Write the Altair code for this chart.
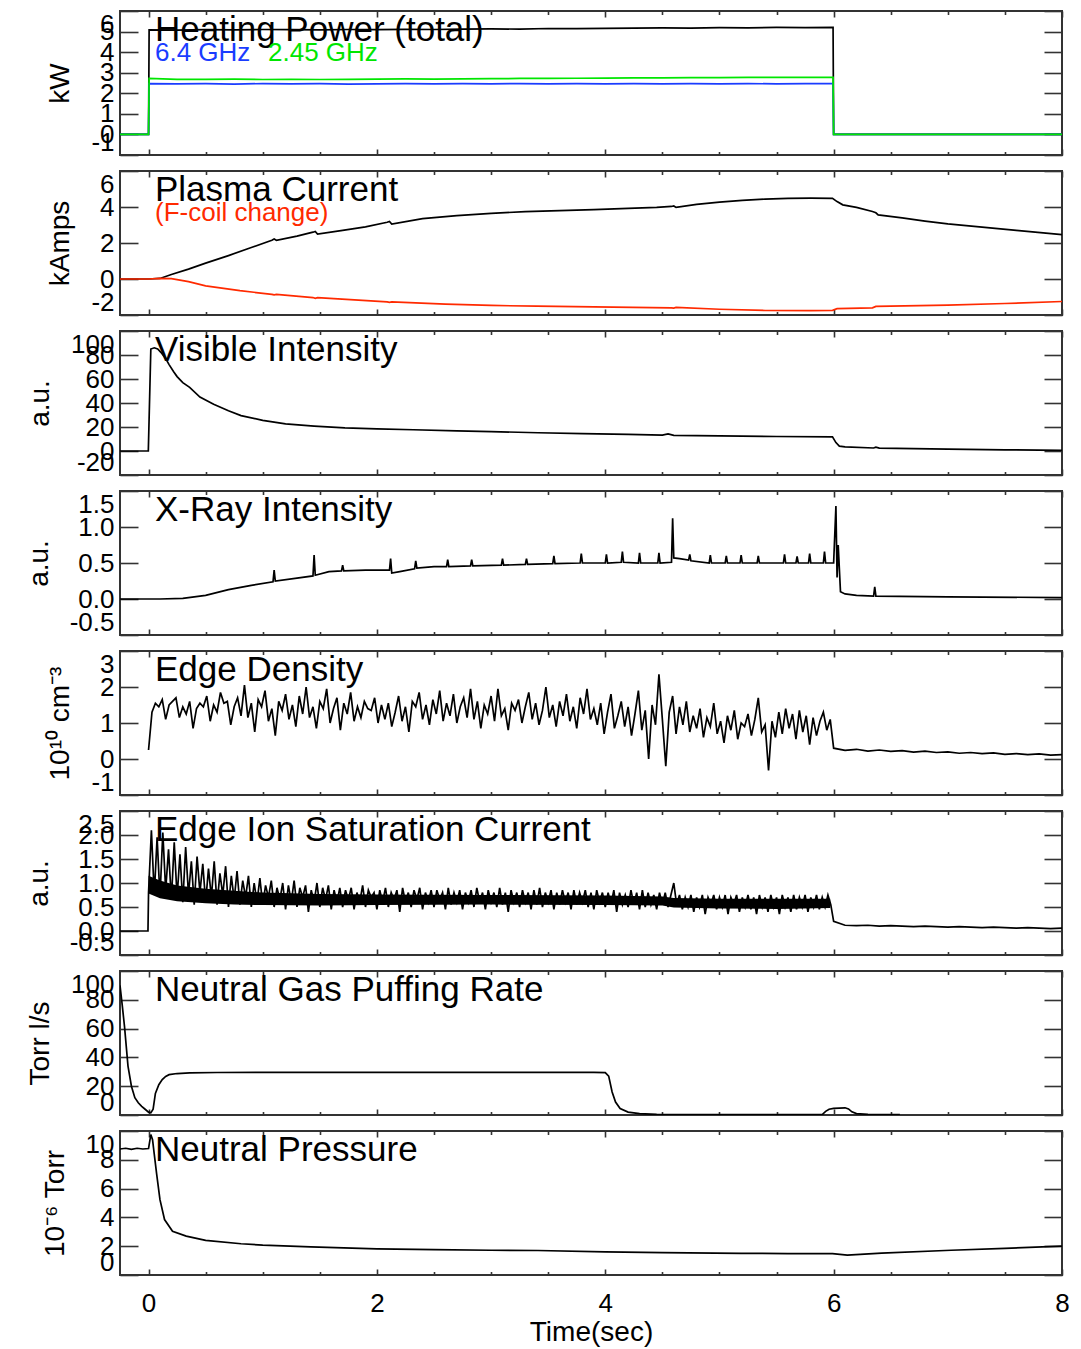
import altair as alt
import pandas as pd

# ---------------- data ----------------
# Panel 1: heating power (kW)
HP_T = [-0.25, 0.0, 0.005, 0.25, 0.5, 0.75, 1.0, 1.25, 1.5, 1.75, 2.0, 2.25, 2.5, 2.75, 3.0,
        3.25, 3.5, 3.75, 4.0, 4.25, 4.5, 4.75, 5.0, 5.25, 5.5, 5.75, 5.995, 6.0, 8.0]
HP_TOTAL = [0, 0, 5.08, 5.07, 5.09, 5.08, 5.10, 5.09, 5.08, 5.10, 5.09, 5.11, 5.10, 5.12, 5.13,
            5.12, 5.15, 5.14, 5.16, 5.17, 5.18, 5.17, 5.19, 5.18, 5.20, 5.19, 5.20, 0, 0]
HP_64 = [0, 0, 2.47, 2.46, 2.47, 2.45, 2.47, 2.46, 2.47, 2.45, 2.46, 2.47, 2.46, 2.47, 2.46,
         2.47, 2.46, 2.47, 2.46, 2.47, 2.46, 2.47, 2.46, 2.47, 2.46, 2.47, 2.47, 0, 0]
HP_245 = [0, 0, 2.72, 2.68, 2.68, 2.69, 2.67, 2.68, 2.67, 2.68, 2.69, 2.70, 2.69, 2.70, 2.71,
          2.72, 2.72, 2.73, 2.74, 2.75, 2.75, 2.76, 2.76, 2.77, 2.77, 2.77, 2.77, 0, 0]

# Panel 2: plasma current and F-coil change (kA)
IP_T = [-0.25, 0.0, 0.1, 0.2, 0.35, 0.5, 0.7, 0.9, 1.08, 1.10, 1.12, 1.3, 1.44, 1.46, 1.48,
        1.7, 1.9, 2.09, 2.11, 2.13, 2.4, 2.7, 3.0, 3.3, 3.6, 3.9, 4.2, 4.45, 4.58, 4.60, 4.62,
        4.8, 5.0, 5.2, 5.4, 5.6, 5.8, 5.99, 6.03, 6.08, 6.2, 6.34, 6.37, 6.39, 6.6, 6.8, 7.0,
        7.3, 7.6, 8.0]
IP = [0, 0, 0.03, 0.25, 0.55, 0.88, 1.30, 1.75, 2.15, 2.22, 2.15, 2.38, 2.60, 2.64, 2.50,
      2.70, 2.90, 3.15, 3.20, 3.05, 3.35, 3.52, 3.65, 3.74, 3.80, 3.85, 3.92, 3.98, 4.03, 4.06, 3.98,
      4.15, 4.27, 4.37, 4.44, 4.48, 4.49, 4.48, 4.30, 4.12, 3.98, 3.75, 3.68, 3.56, 3.40, 3.22, 3.06,
      2.88, 2.70, 2.47]
FC_T = [-0.25, 0.0, 0.1, 0.2, 0.35, 0.5, 0.8, 1.08, 1.10, 1.12, 1.44, 1.46, 1.48, 2.09, 2.11,
        2.13, 2.6, 3.0, 3.4, 3.9, 4.58, 4.60, 4.62, 5.0, 5.4, 5.8, 5.99, 6.03, 6.34, 6.37, 7.0,
        7.5, 8.0]
FC = [0, 0, 0.03, 0.02, -0.15, -0.38, -0.65, -0.85, -0.88, -0.86, -1.03, -1.07, -1.04, -1.27, -1.30,
      -1.27, -1.40, -1.47, -1.51, -1.55, -1.60, -1.62, -1.58, -1.68, -1.75, -1.76, -1.74, -1.65, -1.60, -1.52, -1.45,
      -1.36, -1.25]

# Panel 3: visible intensity (a.u.)
VIS_T = [-0.25, -0.002, 0.02, 0.05, 0.08, 0.11, 0.15, 0.18, 0.22, 0.25, 0.3, 0.36, 0.45, 0.57,
         0.7, 0.81, 1.0, 1.2, 1.45, 1.72, 2.0, 2.32, 2.7, 3.0, 3.41, 3.8, 4.2, 4.5, 4.55, 4.6,
         5.0, 5.5, 5.99, 6.02, 6.05, 6.1, 6.35, 6.37, 6.4, 7.0, 7.5, 8.0]
VIS = [0, 0, 85, 86, 85, 82, 77, 72, 66, 62, 57, 53, 45, 39,
       33.5, 29.5, 25.5, 22.6, 20.8, 19.3, 18.5, 17.7, 16.8, 16.2, 15.2, 14.5, 13.8, 13.2, 14.2, 13.0,
       12.6, 12.1, 11.8, 7.0, 4.0, 3.4, 2.5, 3.2, 2.4, 1.6, 1.0, 0.6]

# Panel 4: X-ray intensity (a.u.)
XR_T = [-0.25, 0.1, 0.3, 0.5, 0.7, 0.9,
        1.09, 1.10, 1.11, 1.3,
        1.44, 1.45, 1.46, 1.58,
        1.69, 1.70, 1.71, 1.9,
        2.11, 2.12, 2.13, 2.2,
        2.33, 2.34, 2.35, 2.5,
        2.61, 2.62, 2.63,
        2.82, 2.83, 2.84,
        3.09, 3.10, 3.11,
        3.30, 3.31, 3.32,
        3.54, 3.55, 3.56,
        3.78, 3.79, 3.80,
        4.00, 4.01, 4.02,
        4.14, 4.15, 4.16,
        4.29, 4.30, 4.31,
        4.46, 4.47, 4.48,
        4.58, 4.59, 4.60, 4.65,
        4.73, 4.74, 4.75,
        4.91, 4.92, 4.93,
        5.05, 5.06, 5.07,
        5.18, 5.19, 5.20,
        5.33, 5.34, 5.35,
        5.56, 5.57, 5.58,
        5.67, 5.68, 5.69,
        5.78, 5.79, 5.80,
        5.91, 5.92, 5.93,
        6.00, 6.02, 6.03, 6.04, 6.06, 6.10, 6.20,
        6.35, 6.36, 6.37, 7.0, 8.0]
XR = [0.0, 0.0, 0.01, 0.05, 0.13, 0.19,
      0.24, 0.40, 0.25, 0.29,
      0.32, 0.61, 0.33, 0.38,
      0.39, 0.47, 0.39, 0.40,
      0.40, 0.56, 0.36, 0.38,
      0.42, 0.53, 0.43, 0.45,
      0.45, 0.545, 0.45,
      0.46, 0.545, 0.46,
      0.47, 0.56, 0.47,
      0.48, 0.56, 0.48,
      0.49, 0.60, 0.49,
      0.50, 0.63, 0.50,
      0.50, 0.62, 0.50,
      0.51, 0.66, 0.51,
      0.50, 0.64, 0.50,
      0.50, 0.64, 0.50,
      0.51, 1.12, 0.57, 0.56,
      0.54, 0.62, 0.53,
      0.50, 0.61, 0.50,
      0.50, 0.60, 0.50,
      0.50, 0.61, 0.50,
      0.50, 0.60, 0.50,
      0.50, 0.62, 0.50,
      0.50, 0.59, 0.50,
      0.50, 0.63, 0.50,
      0.50, 0.66, 0.50,
      0.50, 1.29, 0.30, 0.75, 0.10, 0.07, 0.05,
      0.04, 0.17, 0.04, 0.03, 0.02]

# Panel 5: edge density (1e10 cm^-3), sampled every 0.03 s from t = 0, then every 0.1 s from t = 6
ED_DT = 0.03
ED = [
    0.25, 1.30, 1.55, 1.45, 1.65, 1.10, 1.50, 1.60, 1.70, 1.15,
    1.45, 1.25, 1.60, 0.85, 1.40, 1.55, 1.45, 1.75, 1.05, 1.50,
    1.30, 1.85, 1.55, 1.60, 0.95, 1.45, 1.70, 1.20, 2.05, 1.15,
    1.55, 0.75, 1.65, 1.45, 1.90, 1.05, 1.40, 0.65, 1.60, 1.35,
    1.80, 1.10, 1.50, 0.90, 1.75, 1.25, 2.00, 1.15, 1.45, 0.85,
    1.60, 1.40, 1.95, 1.00, 1.40, 1.70, 0.80, 1.55, 1.25, 1.85,
    1.05, 1.45, 1.15, 1.60, 1.40, 1.35, 1.70, 1.00, 1.50, 1.10,
    1.55, 0.90, 1.30, 1.75, 1.05, 1.45, 0.75, 1.60, 1.45, 1.85,
    1.10, 1.50, 0.95, 1.65, 1.25, 1.90, 1.05, 1.55, 1.20, 1.80,
    1.00, 1.45, 1.70, 1.15, 1.95, 1.10, 1.60, 0.85, 1.50, 1.25,
    1.75, 1.05, 1.95, 1.20, 1.40, 0.80, 1.55, 1.35, 1.65, 1.00,
    1.45, 1.85, 1.10, 1.55, 0.95, 1.35, 2.00, 1.15, 1.50, 0.90,
    1.60, 1.20, 1.80, 1.05, 1.45, 0.85, 1.70, 1.25, 1.95, 1.10,
    1.40, 0.95, 1.55, 0.70, 1.30, 1.80, 0.85, 1.20, 1.60, 0.90,
    1.45, 0.65, 1.25, 1.90, 0.80, 1.35, 0.00, 1.50, 0.95, 2.35,
    1.10, -0.20, 1.30, 1.75, 0.70, 1.45, 0.95, 1.60, 0.75, 1.20,
    0.85, 1.40, 0.60, 1.15, 0.90, 1.55, 0.70, 1.05, 0.45, 1.20,
    0.80, 1.35, 0.55, 1.00, 0.90, 1.25, 0.65, 1.10, 1.70, 0.75,
    0.95, -0.32, 1.05, 0.60, 1.30, 0.70, 1.40, 0.85, 1.25, 0.55,
    1.35, 0.75, 1.20, 0.40, 1.15, 0.65, 1.05, 1.30, 0.80, 1.10,
]
ED_POST = [0.30, 0.24, 0.27, 0.22, 0.25, 0.21, 0.23, 0.19, 0.22, 0.18, 0.20,
           0.16, 0.18, 0.15, 0.17, 0.13, 0.15, 0.12, 0.14, 0.11, 0.12]

# Panel 6: edge ion saturation current (a.u.), every 0.025 s from t = 0, then every 0.1 s from t = 6
ION_PRE_T = [-0.25, -0.005]
ION_PRE = [0.0, 0.0]
ION_DT = 0.025
ION = [
    0.80, 2.10, 0.75, 1.95, 0.70, 2.05, 0.85, 1.70, 0.65, 1.85,
    0.70, 1.60, 0.60, 1.75, 0.75, 1.45, 0.55, 1.55, 0.80, 1.40,
    0.60, 1.30, 0.70, 1.45, 0.55, 1.20, 0.75, 1.35, 0.50, 1.15,
    0.65, 1.25, 0.55, 1.05, 0.70, 1.15, 0.50, 1.00, 0.60, 1.10,
    0.55, 0.95, 0.70, 1.05, 0.50, 0.90, 0.65, 1.00, 0.45, 0.95,
    0.60, 1.05, 0.50, 0.90, 0.70, 0.95, 0.40, 0.85, 0.60, 1.00,
    0.50, 0.90, 0.65, 0.95, 0.45, 0.85, 0.60, 0.90, 0.50, 0.85,
    0.65, 0.90, 0.45, 0.80, 0.60, 0.95, 0.50, 0.85, 0.70, 0.80,
    0.45, 0.85, 0.60, 0.90, 0.50, 0.80, 0.65, 0.85, 0.40, 0.90,
    0.60, 0.80, 0.50, 0.85, 0.65, 0.90, 0.45, 0.80, 0.60, 0.85,
    0.50, 0.85, 0.65, 0.80, 0.45, 0.90, 0.55, 0.80, 0.60, 0.85,
    0.45, 0.80, 0.60, 0.85, 0.50, 0.90, 0.60, 0.80, 0.45, 0.85,
    0.60, 0.80, 0.50, 0.90, 0.55, 0.80, 0.40, 0.85, 0.60, 0.80,
    0.50, 0.85, 0.60, 0.80, 0.45, 0.85, 0.55, 0.90, 0.50, 0.80,
    0.60, 0.85, 0.45, 0.80, 0.55, 0.85, 0.60, 0.80, 0.45, 0.85,
    0.55, 0.80, 0.60, 0.85, 0.50, 0.80, 0.45, 0.85, 0.60, 0.80,
    0.50, 0.80, 0.55, 0.85, 0.40, 0.80, 0.55, 0.75, 0.50, 0.85,
    0.55, 0.80, 0.45, 0.85, 0.50, 0.80, 0.55, 0.75, 0.45, 0.80,
    0.55, 0.80, 0.50, 0.75, 1.00, 0.55, 0.75, 0.45, 0.70, 0.50,
    0.75, 0.40, 0.70, 0.50, 0.75, 0.35, 0.70, 0.55, 0.75, 0.45,
    0.70, 0.50, 0.75, 0.35, 0.70, 0.55, 0.75, 0.40, 0.70, 0.50,
    0.75, 0.45, 0.70, 0.35, 0.75, 0.50, 0.70, 0.40, 0.75, 0.50,
    0.70, 0.35, 0.75, 0.50, 0.70, 0.40, 0.75, 0.45, 0.70, 0.50,
    0.75, 0.40, 0.70, 0.50, 0.75, 0.45, 0.70, 0.50, 0.75, 0.55,
]
ION_POST = [0.20, 0.12, 0.11, 0.12, 0.10, 0.11, 0.10, 0.09, 0.10, 0.09, 0.08,
            0.09, 0.08, 0.07, 0.08, 0.07, 0.06, 0.07, 0.06, 0.05, 0.06]
# dense core of the ion-current trace (envelope)
ION_BAND_T = [0.0, 0.1, 0.25, 0.5, 0.75, 1.0, 1.5, 2.0, 3.0, 4.0, 4.5, 4.6, 5.0, 5.5, 5.97]
ION_BAND_LO = [0.78, 0.68, 0.62, 0.58, 0.55, 0.54, 0.53, 0.54, 0.55, 0.54, 0.53, 0.49, 0.47, 0.46, 0.48]
ION_BAND_HI = [1.15, 1.05, 0.95, 0.88, 0.84, 0.80, 0.77, 0.76, 0.75, 0.74, 0.72, 0.69, 0.67, 0.67, 0.67]
POST_T0, POST_DT = 6.0, 0.1

# Panel 7: neutral gas puffing rate (Torr l/s)
GP_T = [-0.25, -0.23, -0.21, -0.18, -0.15, -0.12, -0.09, -0.06, -0.03, 0.0,
        0.02, 0.04, 0.06, 0.09, 0.12, 0.15, 0.18, 0.25, 0.36, 0.6,
        1.0, 2.0, 3.0, 3.9, 4.0, 4.03, 4.06, 4.09, 4.13, 4.2,
        4.3, 4.45, 5.0, 5.5, 5.9, 5.93, 5.96, 6.0, 6.1, 6.13,
        6.16, 6.2, 6.3, 6.45, 6.58]
GP = [90, 76, 61, 34, 20, 12, 8.5, 6, 4, 2,
      1.5, 4, 15, 21, 24.6, 26.8, 28, 28.8, 29.3, 29.5,
      29.6, 29.6, 29.6, 29.6, 29.4, 27, 16, 9, 4.5, 2,
      0.9, 0.4, 0.3, 0.3, 0.3, 2.5, 4, 4.6, 5.0, 4.2,
      2.2, 1.0, 0.4, 0.2, 0.2]

# Panel 8: neutral pressure (1e-6 Torr)
NP_T = [-0.25, -0.2, -0.15, -0.1, -0.05, 0.0, 0.02, 0.035, 0.05, 0.07, 0.1, 0.14, 0.21, 0.33,
        0.5, 0.81, 1.0, 1.42, 2.0, 2.5, 3.0, 3.41, 4.0, 4.5, 5.19, 5.6, 5.99, 6.12, 6.42, 7.03,
        7.5, 8.0]
NP = [8.75, 8.80, 8.72, 8.80, 8.75, 8.78, 9.75, 9.40, 8.40, 7.08, 5.23, 3.85, 3.04, 2.70,
      2.40, 2.17, 2.08, 1.96, 1.82, 1.76, 1.72, 1.70, 1.61, 1.56, 1.50, 1.49, 1.48, 1.38, 1.52, 1.72,
      1.85, 2.00]

TITLES = ["Heating Power (total)", "Plasma Current", "Visible Intensity", "X-Ray Intensity",
          "Edge Density", "Edge Ion Saturation Current", "Neutral Gas Puffing Rate",
          "Neutral Pressure"]
Y_TITLES = ["kW", "kAmps", "a.u.", "a.u.", "10¹⁰ cm⁻³", "a.u.", "Torr l/s", "10⁻⁶ Torr"]
Y_DOMAINS = [[-1, 6], [-2, 6], [-20, 100], [-0.5, 1.5], [-1, 3], [-0.5, 2.5], [0, 100], [0, 10]]
Y_TICKS = [[-1, 0, 1, 2, 3, 4, 5, 6], [-2, 0, 2, 4, 6], [-20, 0, 20, 40, 60, 80, 100],
           [-0.5, 0.0, 0.5, 1.0, 1.5], [-1, 0, 1, 2, 3], [-0.5, 0.0, 0.5, 1.0, 1.5, 2.0, 2.5],
           [0, 20, 40, 60, 80, 100], [0, 2, 4, 6, 8, 10]]
Y_FORMATS = ["d", "d", "d", ".1f", "d", ".1f", "d", "d"]

X_DOMAIN = [-0.25, 8.0]
X_MAJOR = [0, 2, 4, 6, 8]
X_MINOR = [0.5, 1.0, 1.5, 2.5, 3.0, 3.5, 4.5, 5.0, 5.5, 6.5, 7.0, 7.5]

# ---------------- styling ----------------
FONT = "Liberation Sans"
W, H = 942, 144
BLACK, BLUE, GREEN, RED = "#000000", "#1a3cff", "#00e600", "#ff2a00"


def grid(n, dt, t0=0.0):
    return [round(t0 + i * dt, 4) for i in range(n)]


def frame(t, **cols):
    d = {"t": t}
    d.update(cols)
    return pd.DataFrame(d)


def xenc(axis):
    return alt.X("t:Q", scale=alt.Scale(domain=X_DOMAIN, nice=False, zero=False), axis=axis)


def yenc(field, dom, axis):
    return alt.Y(f"{field}:Q", scale=alt.Scale(domain=dom, nice=False, zero=False), axis=axis)


def lexpr(fmt):
    return (f"datum.value < 0 ? '-' + format(-datum.value, '{fmt}') "
            f": format(datum.value, '{fmt}')")


def panel(i, series, texts, last=False, bands=()):
    dom, ticks = Y_DOMAINS[i], Y_TICKS[i]
    df0, f0, _ = series[0]
    xb_major = dict(orient="bottom", values=X_MAJOR, tickSize=6, offset=-6, labels=last,
                    labelFlush=False, labelPadding=15, format="d", titlePadding=2)
    xb_major["title"] = "Time(sec)" if last else None
    ax_xb_major = alt.Axis(**xb_major)
    ax_xb_minor = alt.Axis(orient="bottom", values=X_MINOR, tickSize=3.5, offset=-3.5,
                           labels=False, title=None)
    ax_xt_major = alt.Axis(orient="top", values=X_MAJOR, tickSize=6, offset=-6,
                           labels=False, title=None)
    ax_xt_minor = alt.Axis(orient="top", values=X_MINOR, tickSize=3.5, offset=-3.5,
                           labels=False, title=None)
    ax_yl = alt.Axis(orient="left", values=ticks, tickSize=18, offset=-18, labelPadding=6,
                     labelFlush=True, labelOverlap=False, labelExpr=lexpr(Y_FORMATS[i]),
                     title=Y_TITLES[i], titlePadding=16)
    ax_yr = alt.Axis(orient="right", values=ticks, tickSize=18, offset=-18, labels=False,
                     title=None)

    base = alt.Chart(df0).mark_line(strokeOpacity=0, clip=True)
    layers = [
        base.encode(x=xenc(ax_xb_major), y=yenc(f0, dom, ax_yl)),
        base.encode(x=xenc(ax_xb_minor), y=yenc(f0, dom, ax_yr)),
        base.encode(x=xenc(ax_xt_major), y=yenc(f0, dom, None)),
        base.encode(x=xenc(ax_xt_minor), y=yenc(f0, dom, None)),
    ]
    for df, color in bands:
        layers.append(
            alt.Chart(df).mark_area(color=color, opacity=1, clip=True)
            .encode(x=xenc(None), y=yenc("lo", dom, None), y2="hi:Q")
        )
    for df, f, color in series:
        layers.append(
            alt.Chart(df).mark_line(color=color, strokeWidth=1.7, clip=True)
            .encode(x=xenc(None), y=yenc(f, dom, None))
        )
    for txt, dx, dy, size, color in texts:
        layers.append(
            alt.Chart(pd.DataFrame({"label": [txt]}))
            .mark_text(align="left", baseline="alphabetic", font=FONT, fontSize=size,
                       color=color)
            .encode(x=alt.value(dx), y=alt.value(dy), text="label:N")
        )
    return (alt.layer(*layers)
            .resolve_scale(x="shared", y="shared")
            .resolve_axis(x="independent", y="independent")
            .properties(width=W, height=H))


ED_T = grid(len(ED), ED_DT) + grid(len(ED_POST), POST_DT, POST_T0)
ION_T = ION_PRE_T + grid(len(ION), ION_DT) + grid(len(ION_POST), POST_DT, POST_T0)

TITLE_SIZE, SUB_SIZE = 35, 26
panels = [
    panel(0, [(frame(HP_T, v=HP_TOTAL), "v", BLACK),
              (frame(HP_T, v=HP_64), "v", BLUE),
              (frame(HP_T, v=HP_245), "v", GREEN)],
          [(TITLES[0], 35, 30, TITLE_SIZE, BLACK),
           ("6.4 GHz", 35, 50, SUB_SIZE, BLUE),
           ("2.45 GHz", 148, 50, SUB_SIZE, GREEN)]),
    panel(1, [(frame(IP_T, v=IP), "v", BLACK),
              (frame(FC_T, v=FC), "v", RED)],
          [(TITLES[1], 35, 30, TITLE_SIZE, BLACK),
           ("(F-coil change)", 35, 50, SUB_SIZE, RED)]),
    panel(2, [(frame(VIS_T, v=VIS), "v", BLACK)], [(TITLES[2], 35, 30, TITLE_SIZE, BLACK)]),
    panel(3, [(frame(XR_T, v=XR), "v", BLACK)], [(TITLES[3], 35, 30, TITLE_SIZE, BLACK)]),
    panel(4, [(frame(ED_T, v=ED + ED_POST), "v", BLACK)],
          [(TITLES[4], 35, 30, TITLE_SIZE, BLACK)]),
    panel(5, [(frame(ION_T, v=ION_PRE + ION + ION_POST), "v", BLACK)],
          [(TITLES[5], 35, 30, TITLE_SIZE, BLACK)],
          bands=[(frame(ION_BAND_T, lo=ION_BAND_LO, hi=ION_BAND_HI), BLACK)]),
    panel(6, [(frame(GP_T, v=GP), "v", BLACK)], [(TITLES[6], 35, 30, TITLE_SIZE, BLACK)]),
    panel(7, [(frame(NP_T, v=NP), "v", BLACK)], [(TITLES[7], 35, 30, TITLE_SIZE, BLACK)],
          last=True),
]

chart = (
    alt.vconcat(*panels, spacing=12)
    .resolve_scale(x="independent", y="independent")
    .properties(padding={"left": 24, "top": 9, "right": 5, "bottom": 0}, background="white")
    .configure_view(stroke="#333333", strokeWidth=2)
    .configure_axis(labelFont=FONT, titleFont=FONT, labelFontSize=26, titleFontSize=28,
                    labelColor="black", titleColor="black", titleFontWeight="normal",
                    tickColor="#333333", tickWidth=1.6, domain=False, grid=False)
)

chart.save("out.html", embed_options={"renderer": "svg", "actions": False})
